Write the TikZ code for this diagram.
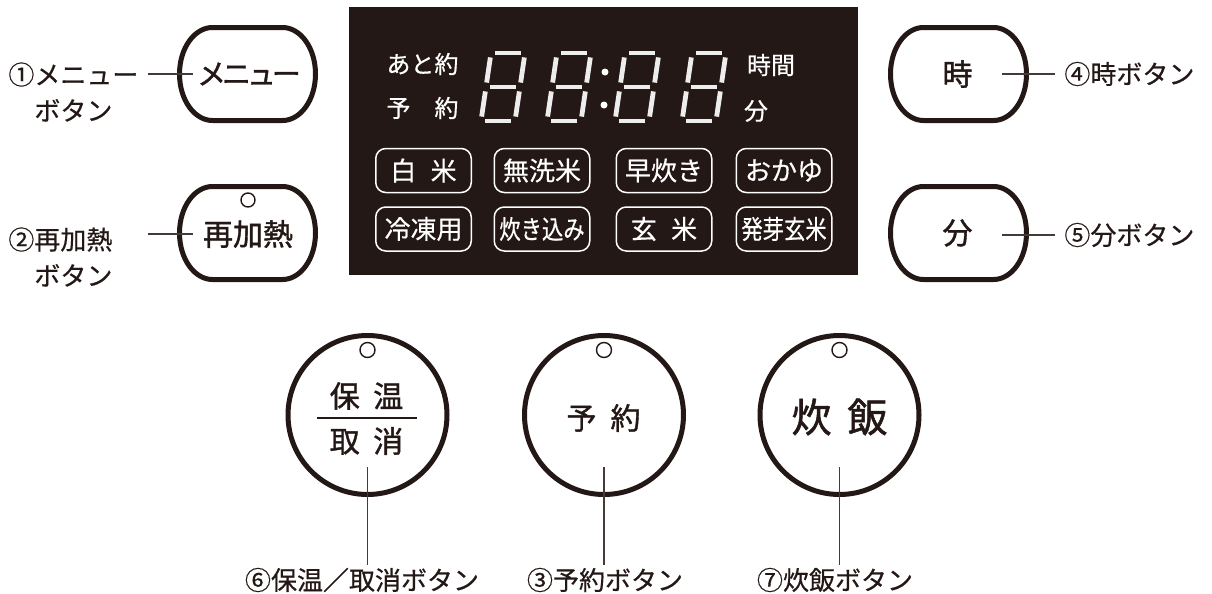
\documentclass[tikz,border=0pt]{standalone}
\usepackage{fontspec}
\usepackage{graphicx}
\setmainfont{Noto Sans CJK JP}
\newfontfamily\jplbl[FakeBold=0.5]{Noto Sans CJK JP}
\newfontfamily\jpbtn[FakeBold=1.3]{Noto Sans CJK JP}
\newfontfamily\jpprop[FakeBold=1.3,LetterSpace=-14]{Noto Sans CJK JP}
\usetikzlibrary{calc}
\definecolor{ink}{RGB}{35,24,21}

\begin{document}
\begin{tikzpicture}[x=0.5pt,y=-0.5pt,
	lbl/.style={text=ink,font=\jplbl\fontsize{13}{18}\selectfont,inner sep=1pt},
	pilltext/.style={text=ink,font=\jpbtn\fontsize{15}{18}\selectfont,minimum width=70.5pt,minimum height=49pt,inner sep=0pt},
	pill/.style={draw=ink,line width=2.5pt},
	lead/.style={draw=ink!85,line width=0.65pt},
	btn/.style={circle,draw=ink,line width=2.5pt,minimum size=79.5pt,inner sep=0pt},
	btntext/.style={text=ink,font=\jpbtn\fontsize{15}{18}\selectfont,inner sep=0pt},
	hole/.style={draw=ink,line width=0.7pt},
	paneltext/.style={text=white,font=\jplbl\fontsize{12}{14}\selectfont,inner sep=0pt},
	seg/.style={draw=white!93!black,line width=2.4pt},
	modebox/.style={draw=white,line width=0.75pt,rounded corners=5pt,minimum width=47.75pt,minimum height=22pt,inner sep=0pt,text=white,font=\jplbl\fontsize{13}{15}\selectfont}]
			\useasboundingbox (0,0) rectangle (1212,594);
			
			\foreach \cx/\cy in {247.5/74,247.5/233,958.5/74,958.5/233}
				\draw[pill] (\cx-35,\cy-46.5) -- (\cx+35,\cy-46.5) arc[start angle=-90,end angle=90,x radius=33,y radius=46.5] -- (\cx-35,\cy+46.5) arc[start angle=90,end angle=270,x radius=33,y radius=46.5] -- cycle;
			\node (menu) at (249,74)[pilltext]{\jpprop\fontsize{14.5}{18}\selectfont メニュー};
			\node (reheat) at (248,234)[pilltext]{再加熱};
			\draw[hole] (248,200) circle[radius=7];
			\node (hour) at (957.5,74)[pilltext]{時};
			\node (minute) at (957.5,233)[pilltext]{分};
			
			\node (lbl1) at (6,92)[lbl,anchor=west,align=left]{①メニュー\\\hspace*{1em}ボタン};
			\draw[lead] ([shift={(-30,0)}]menu.west) -- ([shift={(15,0)}]menu.west);
			\node (lbl2) at (6,257)[lbl,anchor=west,align=left]{②再加熱\\\hspace*{1em}ボタン};
			\draw[lead] ([shift={(-29,0)}]reheat.west) -- ([shift={(16,0)}]reheat.west);
			\node (lbl4) at (1062,74)[lbl,anchor=west]{④時ボタン};
			\draw[lead] ([shift={(-26,0)}]hour.east) -- ([shift={(-7,0)}]lbl4.west);
			\node (lbl5) at (1062,235)[lbl,anchor=west]{⑤分ボタン};
			\draw[lead] ([shift={(-26,2)}]minute.east) -- ([shift={(-7,0)}]lbl5.west);
			
			\fill[ink] (349,7) rectangle (858,275);
			\node (ato) at (422.5,64)[paneltext]{あと約};
			\node (yoyakuL) at (422.5,108)[paneltext]{\makebox[3em]{予\hfill{}約}};
			\node (jikan) at (771,65)[paneltext]{時間};
			\node (fun) at (756,111)[paneltext]{分};
			\foreach \d in {481,547,615,682}
				\foreach \ax/\ay/\bx/\by in {10/53/44/53,5/87/39/87,0/121/34/121,10/53/5/87,5/87/0/121,44/53/39/87,39/87/34/121}
					\draw[seg] ($(\d+\ax,\ay)!.13!(\d+\bx,\by)$) -- ($(\d+\ax,\ay)!.87!(\d+\bx,\by)$);
			\fill[white] (605,72) circle[radius=3.5];
			\fill[white] (604,105) circle[radius=3.5];
			
			\node (hakumai) at (423.5,170.5)[modebox]{白\hspace{.55em}米};
			\node (musenmai) at (542,170.5)[modebox]{無洗米};
			\node (hayadaki) at (664,170.5)[modebox]{早炊き};
			\node (okayu) at (784,170.5)[modebox]{おかゆ};
			\node (reitou) at (423.5,229)[modebox]{冷凍用};
			\node (takikomi) at (542,229)[modebox]{\scalebox{.82}[1]{炊き込み}};
			\node (genmai) at (664,229)[modebox]{玄\hspace{.55em}米};
			\node (hatsuga) at (784,229)[modebox]{\scalebox{.82}[1]{発芽玄米}};
			
			\node (hozon) at (367.5,415)[btn]{};
			\node at (366.5,396)[btntext]{保\hspace{.45em}温};
			\draw[ink,line width=1pt] (317,418) -- (417,418);
			\node at (366.5,441)[btntext]{取\hspace{.45em}消};
			\draw[hole] (367.5,350) circle[radius=7.5];
			
			\node (yoyaku) at (604,415)[btn]{};
			\node at (603.5,418)[btntext]{予\hspace{.47em}約};
			\draw[hole] (604,350) circle[radius=7.5];
			
			\node (suihan) at (839.5,415)[btn]{};
			\node at (839.5,417)[btntext,font=\jpbtn\fontsize{20}{22}\selectfont]{炊\hspace{.4em}飯};
			\draw[hole] (839.5,350) circle[radius=7.5];
			
			\node (lbl6) at (362,580)[lbl]{⑥保温／取消ボタン};
			\draw[lead] ([shift={(0,52)}]hozon.center) -- (lbl6.north -| hozon.center);
			\node (lbl3) at (605,580)[lbl]{③予約ボタン};
			\draw[lead] ([shift={(0,52)}]yoyaku.center) -- (lbl3.north -| yoyaku.center);
			\node (lbl7) at (835,580)[lbl]{⑦炊飯ボタン};
			\draw[lead] ([shift={(0,52)}]suihan.center) -- (lbl7.north -| suihan.center);
		\end{tikzpicture}
\end{document}
